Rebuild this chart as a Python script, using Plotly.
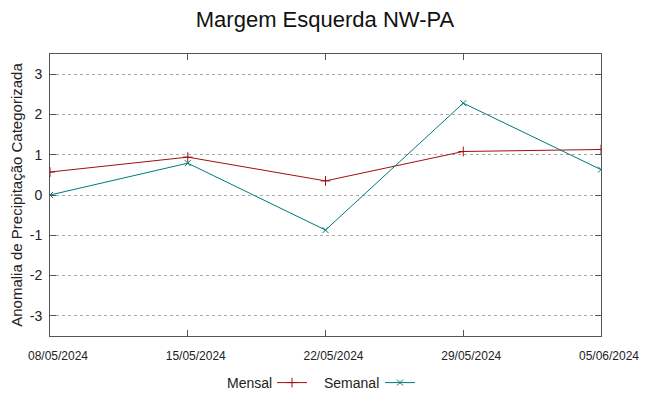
import plotly.graph_objects as go

dates = ["2024-05-08", "2024-05-15", "2024-05-22", "2024-05-29", "2024-06-05"]
tick_labels = ["08/05/2024", "15/05/2024", "22/05/2024", "29/05/2024", "05/06/2024"]
y_ticks = [-3, -2, -1, 0, 1, 2, 3]
y_tick_labels = ["-3", "-2", "-1", "0", "1", "2", "3"]
mensal = [0.57, 0.94, 0.35, 1.08, 1.13]
semanal = [0.0, 0.79, -0.87, 2.28, 0.63]

RED = "#a01010"
TEAL = "#007a7a"
FONT = "Liberation Sans, Arial, sans-serif"

fig = go.Figure()
fig.add_trace(go.Scatter(
    x=dates, y=mensal, mode="lines+markers", name="",
    line=dict(color=RED, width=1),
    marker=dict(symbol="cross-thin-open", size=7, line=dict(color=RED, width=1), color=RED),
    legend="legend",
))
fig.add_trace(go.Scatter(
    x=dates, y=semanal, mode="lines+markers", name="",
    line=dict(color=TEAL, width=1),
    marker=dict(symbol="x-thin-open", size=6, line=dict(color=TEAL, width=1), color=TEAL),
    legend="legend2",
))

# page has an 8px body margin; work in page pixels and convert
OFF = 8
W, H = 649 - OFF, 396 - OFF
PL, PR, PT, PB = 50, 601, 54, 336  # plot area in page pixels
L, T = PL - OFF, PT - OFF
R = W - (PR - OFF)
B = H - (PB - OFF)
pw = W - L - R
ph = H - T - B

def px_to_paper_x(px):
    return (px - PL) / pw

def px_to_paper_y(py):
    return (PB - py) / ph

LEG_Y = px_to_paper_y(383)

fig.update_layout(
    width=W, height=H,
    margin=dict(l=L, r=R, t=T, b=B, autoexpand=False),
    paper_bgcolor="white", plot_bgcolor="white",
    font=dict(family=FONT, color="#222222", size=12),
    title=dict(text="Margem Esquerda NW-PA", x=(325 - OFF) / W, xanchor="center",
               y=1 - (19 - OFF) / H, yanchor="middle", font=dict(size=22, color="#111111"),
               automargin=False),
    showlegend=True,
    legend=dict(orientation="h", x=px_to_paper_x(272), xanchor="left",
                y=LEG_Y, yanchor="middle",
                bgcolor="rgba(0,0,0,0)", font=dict(size=14)),
    legend2=dict(orientation="h", x=px_to_paper_x(380), xanchor="left",
                 y=LEG_Y, yanchor="middle",
                 bgcolor="rgba(0,0,0,0)", font=dict(size=14)),
    xaxis=dict(
        type="date", range=[dates[0], dates[-1]],
        tickvals=dates, ticktext=tick_labels,
        ticks="inside", ticklen=6, tickcolor="#555555",
        showline=True, linecolor="#555555", linewidth=1, mirror="ticks",
        showgrid=False, zeroline=False, automargin=False,
        tickfont=dict(size=12, color="#222222"),
        ticklabelstandoff=9, ticklabelshift=8,
    ),
    yaxis=dict(
        range=[-3.5, 3.5], tickvals=y_ticks, ticktext=y_tick_labels,
        ticks="inside", ticklen=6, tickcolor="#555555",
        showline=True, linecolor="#555555", linewidth=1, mirror="ticks",
        showgrid=True, gridcolor="#a8a8a8", griddash="dot", gridwidth=1,
        zeroline=False, automargin=False,
        tickfont=dict(size=14, color="#222222"),
        ticklabelstandoff=4,
        title=dict(text="Anomalia de Precipitação Categorizada",
                   font=dict(size=15, color="#222222"), standoff=4),
    ),
    annotations=[
        dict(text="Mensal", x=px_to_paper_x(274), y=LEG_Y,
             xref="paper", yref="paper", xanchor="right", yanchor="middle",
             showarrow=False, font=dict(size=14, color="#222222")),
        dict(text="Semanal", x=px_to_paper_x(381), y=LEG_Y,
             xref="paper", yref="paper", xanchor="right", yanchor="middle",
             showarrow=False, font=dict(size=14, color="#222222")),
    ],
)

fig.write_html("out.html")
